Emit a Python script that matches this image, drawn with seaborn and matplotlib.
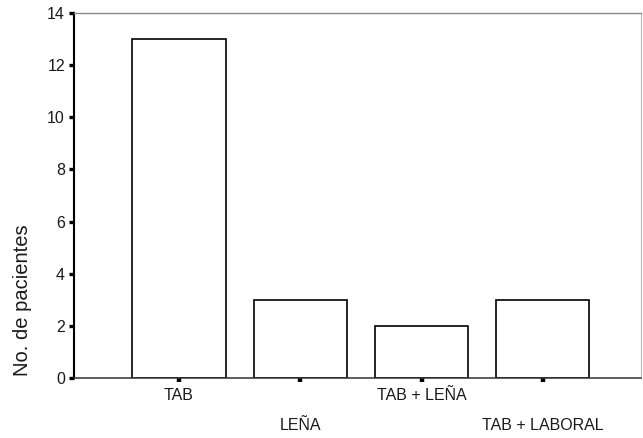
import matplotlib
matplotlib.use("Agg")
import matplotlib.pyplot as plt
import matplotlib.transforms as mtransforms
import seaborn as sns
import pandas as pd

# Exposure categories and patient counts
categorias = ["TAB", "LEÑA", "TAB + LEÑA", "TAB + LABORAL"]
pacientes = [13, 3, 2, 3]
y_ticks = [0, 2, 4, 6, 8, 10, 12, 14]

sns.set_style("white")
plt.rcParams["font.family"] = ["Liberation Sans", "DejaVu Sans"]

df = pd.DataFrame({"categoria": categorias, "pacientes": pacientes})

fig = plt.figure(figsize=(6.43, 4.38), dpi=100)
ax = fig.add_axes([74 / 643, 1 - 378 / 438, (641 - 74) / 643, (378 - 13) / 438])

sns.barplot(data=df, x="categoria", y="pacientes", color="white",
            edgecolor="black", linewidth=1.2, width=0.77, ax=ax)

ax.set_xlim(-0.866, 3.81)
ax.set_ylim(0, 14)
ax.set_yticks(y_ticks)
ax.set_yticklabels([str(v) for v in y_ticks], fontsize=11.5, color="#1a1a1a")
ax.tick_params(axis="y", left=True, direction="out", length=3.5, width=2.4,
               color="black", pad=3)
ax.tick_params(axis="x", bottom=True, direction="out", length=3, width=3.2,
               color="black", labelbottom=False)
ax.set_xlabel("")
ax.set_ylabel("")

for side in ["left", "bottom", "top", "right"]:
    ax.spines[side].set_visible(True)
ax.spines["left"].set_color("black")
ax.spines["left"].set_linewidth(1.5)
ax.spines["bottom"].set_color("#333333")
ax.spines["bottom"].set_linewidth(1.1)
ax.spines["top"].set_color("#888888")
ax.spines["top"].set_linewidth(1.0)
ax.spines["right"].set_color("#bbbbbb")
ax.spines["right"].set_linewidth(0.8)

# Staggered category labels below the axis
trans = mtransforms.blended_transform_factory(ax.transData, fig.transFigure)
for i, cat in enumerate(categorias):
    ypix = 395 if i % 2 == 0 else 425
    ax.text(i, 1 - ypix / 438, cat, transform=trans, ha="center", va="center",
            fontsize=11.5, color="#1a1a1a")

fig.text(23 / 643, 1 - 300 / 438, "No. de pacientes", rotation=90,
         ha="center", va="center", fontsize=14.5, color="#1a1a1a")

fig.savefig("out.png", dpi=100, facecolor="white")
